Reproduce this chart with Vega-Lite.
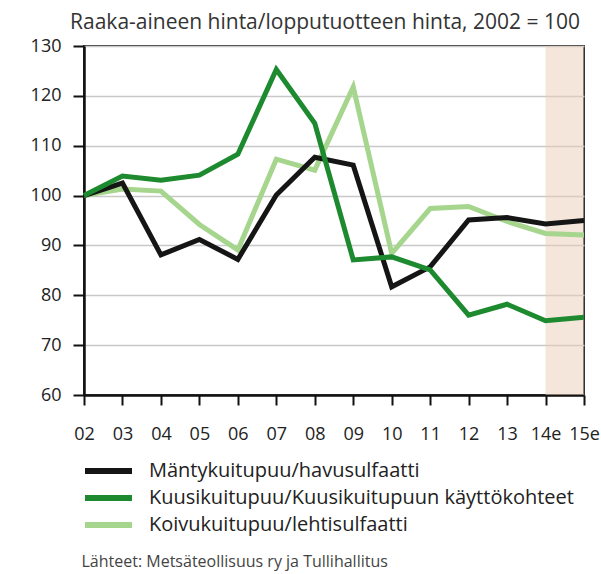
{
  "$schema": "https://vega.github.io/schema/vega-lite/v6.json",
  "width": 500,
  "height": 349,
  "autosize": {"type": "none"},
  "padding": {"left": 84, "top": 46, "right": 17, "bottom": 179},
  "background": "white",
  "title": {
    "text": "Raaka-aineen hinta/lopputuotteen hinta, 2002 = 100",
    "font": "Open Sans",
    "fontSize": 21,
    "fontWeight": "normal",
    "color": "#333333",
    "anchor": "middle",
    "dx": -9,
    "offset": 4
  },
  "config": {
    "view": {"stroke": "#333333", "strokeWidth": 2},
    "font": "Open Sans",
    "axisX": {
      "values": [2, 3, 4, 5, 6, 7, 8, 9, 10, 11, 12, 13, 14, 15],
      "labelExpr": "datum.value < 10 ? '0' + datum.value : (datum.value >= 14 ? datum.value + 'e' : '' + datum.value)",
      "labelOverlap": false,
      "labelFlush": false,
      "grid": false,
      "domainColor": "#111111",
      "domainWidth": 2.5,
      "tickColor": "#111111",
      "tickWidth": 2,
      "tickSize": 10,
      "labelPadding": 20,
      "labelFontSize": 18,
      "labelColor": "#222222",
      "labelFont": "Open Sans",
      "titleFont": "Open Sans",
      "titleFontSize": 16,
      "titleFontWeight": "normal",
      "titleColor": "#444444",
      "titleAnchor": "start",
      "titleAlign": "left",
      "titleX": -3,
      "titleY": 166,
      "titleBaseline": "middle"
    }
  },
  "layer": [
    {
      "data": {"values": [{"start": 14, "end": 15}]},
      "mark": {"type": "rect", "color": "#e9cdb8", "opacity": 0.5},
      "encoding": {
        "x": {
          "field": "start",
          "type": "quantitative",
          "scale": {"domain": [2, 15], "nice": false},
          "title": "Lähteet: Metsäteollisuus ry ja Tullihallitus"
        },
        "x2": {"field": "end"}
      }
    },
    {
      "data": {
        "values": [
          {"year": 2, "series": "Koivukuitupuu/lehtisulfaatti", "value": 100},
          {"year": 3, "series": "Koivukuitupuu/lehtisulfaatti", "value": 101.3},
          {"year": 4, "series": "Koivukuitupuu/lehtisulfaatti", "value": 100.9},
          {"year": 5, "series": "Koivukuitupuu/lehtisulfaatti", "value": 94.2},
          {"year": 6, "series": "Koivukuitupuu/lehtisulfaatti", "value": 89.1},
          {"year": 7, "series": "Koivukuitupuu/lehtisulfaatti", "value": 107.3},
          {"year": 8, "series": "Koivukuitupuu/lehtisulfaatti", "value": 105.1},
          {"year": 9, "series": "Koivukuitupuu/lehtisulfaatti", "value": 121.8},
          {"year": 10, "series": "Koivukuitupuu/lehtisulfaatti", "value": 88.4},
          {"year": 11, "series": "Koivukuitupuu/lehtisulfaatti", "value": 97.4},
          {"year": 12, "series": "Koivukuitupuu/lehtisulfaatti", "value": 97.8},
          {"year": 13, "series": "Koivukuitupuu/lehtisulfaatti", "value": 94.8},
          {"year": 14, "series": "Koivukuitupuu/lehtisulfaatti", "value": 92.4},
          {"year": 15, "series": "Koivukuitupuu/lehtisulfaatti", "value": 92.1},
          {"year": 2, "series": "Mäntykuitupuu/havusulfaatti", "value": 100},
          {"year": 3, "series": "Mäntykuitupuu/havusulfaatti", "value": 102.5},
          {"year": 4, "series": "Mäntykuitupuu/havusulfaatti", "value": 88.1},
          {"year": 5, "series": "Mäntykuitupuu/havusulfaatti", "value": 91.2},
          {"year": 6, "series": "Mäntykuitupuu/havusulfaatti", "value": 87.2},
          {"year": 7, "series": "Mäntykuitupuu/havusulfaatti", "value": 100.1},
          {"year": 8, "series": "Mäntykuitupuu/havusulfaatti", "value": 107.7},
          {"year": 9, "series": "Mäntykuitupuu/havusulfaatti", "value": 106.1},
          {"year": 10, "series": "Mäntykuitupuu/havusulfaatti", "value": 81.7},
          {"year": 11, "series": "Mäntykuitupuu/havusulfaatti", "value": 85.7},
          {"year": 12, "series": "Mäntykuitupuu/havusulfaatti", "value": 95.1},
          {"year": 13, "series": "Mäntykuitupuu/havusulfaatti", "value": 95.6},
          {"year": 14, "series": "Mäntykuitupuu/havusulfaatti", "value": 94.3},
          {"year": 15, "series": "Mäntykuitupuu/havusulfaatti", "value": 95.0},
          {"year": 2, "series": "Kuusikuitupuu/Kuusikuitupuun käyttökohteet", "value": 100},
          {"year": 3, "series": "Kuusikuitupuu/Kuusikuitupuun käyttökohteet", "value": 103.9},
          {"year": 4, "series": "Kuusikuitupuu/Kuusikuitupuun käyttökohteet", "value": 103.1},
          {"year": 5, "series": "Kuusikuitupuu/Kuusikuitupuun käyttökohteet", "value": 104.1},
          {"year": 6, "series": "Kuusikuitupuu/Kuusikuitupuun käyttökohteet", "value": 108.3},
          {"year": 7, "series": "Kuusikuitupuu/Kuusikuitupuun käyttökohteet", "value": 125.3},
          {"year": 8, "series": "Kuusikuitupuu/Kuusikuitupuun käyttökohteet", "value": 114.5},
          {"year": 9, "series": "Kuusikuitupuu/Kuusikuitupuun käyttökohteet", "value": 87.1},
          {"year": 10, "series": "Kuusikuitupuu/Kuusikuitupuun käyttökohteet", "value": 87.7},
          {"year": 11, "series": "Kuusikuitupuu/Kuusikuitupuun käyttökohteet", "value": 85.1},
          {"year": 12, "series": "Kuusikuitupuu/Kuusikuitupuun käyttökohteet", "value": 76.0},
          {"year": 13, "series": "Kuusikuitupuu/Kuusikuitupuun käyttökohteet", "value": 78.2},
          {"year": 14, "series": "Kuusikuitupuu/Kuusikuitupuun käyttökohteet", "value": 74.9},
          {"year": 15, "series": "Kuusikuitupuu/Kuusikuitupuun käyttökohteet", "value": 75.6}
        ]
      },
      "mark": {"type": "line", "strokeWidth": 5, "strokeJoin": "miter"},
      "encoding": {
        "x": {
          "field": "year",
          "type": "quantitative",
          "scale": {"domain": [2, 15], "nice": false},
          "title": "Lähteet: Metsäteollisuus ry ja Tullihallitus"
        },
        "y": {
          "field": "value",
          "type": "quantitative",
          "scale": {"domain": [60, 130], "nice": false},
          "axis": {
            "values": [60, 70, 80, 90, 100, 110, 120, 130],
            "title": null,
            "grid": true,
            "gridColor": "#c8c8c8",
            "gridWidth": 1.5,
            "domainColor": "#111111",
            "domainWidth": 2.5,
            "tickColor": "#111111",
            "tickWidth": 2,
            "tickSize": 11,
            "labelPadding": 12,
            "labelFontSize": 18,
            "labelColor": "#222222",
            "labelFont": "Open Sans"
          }
        },
        "color": {
          "field": "series",
          "type": "nominal",
          "scale": {
            "domain": ["Mäntykuitupuu/havusulfaatti", "Kuusikuitupuu/Kuusikuitupuun käyttökohteet", "Koivukuitupuu/lehtisulfaatti"],
            "range": ["#151515", "#1e8a2f", "#a6d58d"]
          },
          "legend": {
            "title": null,
            "orient": "none",
            "legendX": -2,
            "legendY": 413,
            "symbolType": "stroke",
            "symbolStrokeWidth": 6,
            "symbolSize": 2209,
            "clipHeight": 24,
            "rowPadding": 3,
            "labelOffset": 14,
            "labelFontSize": 20,
            "labelFont": "Open Sans",
            "labelColor": "#222222",
            "labelLimit": 600
          }
        }
      }
    }
  ]
}
